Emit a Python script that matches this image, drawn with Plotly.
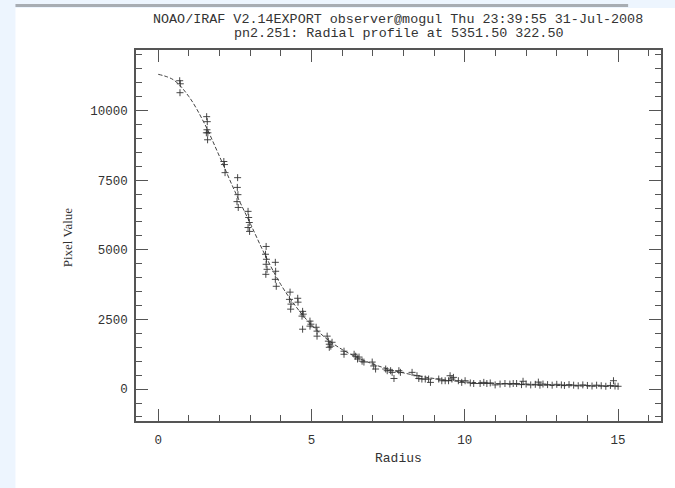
import plotly.graph_objects as go

# ---- data ----
radius = [0.70, 0.72, 0.71,
          1.58, 1.60, 1.59, 1.62, 1.61, 1.57,
          2.14, 2.16, 2.18,
          2.59, 2.58, 2.60, 2.57, 2.61,
          2.93, 2.95, 2.97, 2.93, 2.98,
          3.52, 3.50, 3.53, 3.52, 3.55, 3.51,
          3.82, 3.83, 3.82, 3.85,
          4.30, 4.28, 4.33, 4.32, 4.55, 4.56,
          4.71, 4.73, 4.69, 4.71,
          4.95, 4.98, 4.95, 5.15, 5.18, 5.18,
          5.51, 5.55, 5.58, 5.63, 5.58, 5.67,
          6.06, 6.06, 6.39, 6.44, 6.50, 6.55, 6.65, 6.71,
          6.98, 7.03, 7.09, 7.42, 7.47, 7.58, 7.63, 7.69, 7.85, 7.90,
          8.28, 8.44, 8.50, 8.60, 8.71, 8.82, 8.88,
          9.15, 9.25, 9.36, 9.47, 9.52, 9.58, 9.63, 9.79, 9.90, 10.01,
          10.18, 10.29, 10.50, 10.62, 10.72, 10.83, 10.99,
          11.15, 11.31, 11.47, 11.58, 11.69, 11.85, 11.90,
          12.00, 12.15, 12.30, 12.40, 12.45, 12.55, 12.70, 12.85,
          13.00, 13.15, 13.25, 13.40, 13.55, 13.70, 13.85,
          14.00, 14.15, 14.30, 14.45, 14.60, 14.75, 14.85, 14.90, 15.00]
pixel_value = [11070, 10960, 10640,
               9780, 9600, 9310, 9200, 8950, 9200,
               8170, 8060, 7770,
               7590, 7240, 6980, 6730, 6520,
               6380, 6160, 5980, 5800, 5660,
               5120, 4840, 4660, 4480, 4300, 4120,
               4550, 4230, 3940, 3690,
               3480, 3220, 3050, 2870, 3260, 3120,
               2790, 2690, 2620, 2150,
               2440, 2330, 2260, 2220, 2080, 1900,
               1900, 1720, 1610, 1540, 1500, 1680,
               1360, 1250, 1250, 1180, 1080, 1150, 1000, 970,
               970, 830, 720, 720, 660, 660, 600, 380, 660, 600,
               600, 480, 380, 360, 360, 360, 240,
               360, 300, 300, 300, 480, 360, 420, 300, 240, 300,
               220, 200, 200, 240, 200, 220, 150,
               180, 200, 180, 200, 200, 160, 280,
               180, 150, 170, 250, 140, 180, 160, 140,
               170, 150, 130, 160, 140, 120, 150,
               130, 110, 140, 120, 100, 130, 300, 110, 100]

fit_radius = [0.0, 0.5, 1.0, 1.5, 2.0, 2.5, 3.0, 3.5, 4.0, 4.5, 5.0, 5.5,
              6.0, 6.5, 7.0, 7.5, 8.0, 9.0, 10.0, 11.0, 12.0, 13.0, 14.0, 15.0]
fit_value = [11300, 11100, 10500, 9550, 8350, 7100, 5950, 4780, 3750, 2950,
             2300, 1800, 1420, 1130, 900, 720, 580, 380, 260, 200, 160, 130,
             110, 100]

title_line1 = "NOAO/IRAF V2.14EXPORT observer@mogul Thu 23:39:55 31-Jul-2008"
title_line2 = "pn2.251: Radial profile at 5351.50 322.50"
x_label = "Radius"
y_label = "Pixel Value"

W, H = 675, 488
L, R, T, B = 136, 12, 50, 67
pw, ph = W - L - R, H - T - B


def px(xp):
    return (xp - L) / pw


def py(yp):
    return (H - B - yp) / ph


mono = "Liberation Mono"
ink = "#333333"

fig = go.Figure()
fig.add_trace(go.Scatter(
    x=fit_radius, y=fit_value, mode="lines",
    line=dict(color="#444444", width=1, dash="4px,2px", shape="spline"),
    hoverinfo="skip", showlegend=False))
fig.add_trace(go.Scatter(
    x=radius, y=pixel_value, mode="markers",
    marker=dict(symbol="cross-thin", size=5,
                line=dict(color="#333333", width=0.9)),
    showlegend=False))

axis_common = dict(
    showgrid=False, zeroline=False, showline=True, linecolor="#555555",
    linewidth=1.5, mirror="ticks", ticks="inside", ticklen=12,
    tickwidth=1.2, tickcolor="#555555",
    tickfont=dict(family=mono, size=12.5, color=ink),
)

fig.update_xaxes(range=[-0.725, 16.4], dtick=5, tick0=0,
                 minor=dict(dtick=1, ticks="inside", ticklen=6,
                            tickwidth=1.2, tickcolor="#555555"),
                 ticklabelstandoff=6, **axis_common)
fig.update_yaxes(range=[-1146, 12173], dtick=2500, tick0=0, tickformat="d",
                 minor=dict(dtick=500, ticks="inside", ticklen=6,
                            tickwidth=1.2, tickcolor="#555555"),
                 ticklabelstandoff=4, **axis_common)

shapes = [
    dict(type="rect", xref="paper", yref="paper", layer="below",
         x0=px(15), x1=px(700), y0=py(8), y1=py(520),
         fillcolor="white", line=dict(width=0)),
    dict(type="rect", xref="paper", yref="paper", layer="below",
         x0=px(15), x1=px(630), y0=py(7), y1=py(4),
         fillcolor="#a8adb3", line=dict(width=0)),
]

annotations = [
    dict(text=title_line1, x=px(399), y=py(20), xref="paper", yref="paper",
         showarrow=False, font=dict(family=mono, size=13.4, color=ink),
         xanchor="center", yanchor="middle"),
    dict(text=title_line2, x=px(399), y=py(34), xref="paper", yref="paper",
         showarrow=False, font=dict(family=mono, size=13.4, color=ink),
         xanchor="center", yanchor="middle"),
    dict(text=x_label, x=px(399), y=py(458), xref="paper", yref="paper",
         showarrow=False, font=dict(family=mono, size=13, color=ink),
         xanchor="center", yanchor="middle"),
    dict(text=y_label, x=px(67), y=py(237), xref="paper", yref="paper",
         showarrow=False, textangle=-90,
         font=dict(family="Liberation Serif", size=13, color=ink),
         xanchor="center", yanchor="middle"),
]

fig.update_layout(
    width=W, height=H, autosize=False,
    margin=dict(l=L, r=R, t=T, b=B, pad=0),
    paper_bgcolor="#edf5fe", plot_bgcolor="white",
    shapes=shapes, annotations=annotations,
    showlegend=False,
)

fig.write_html("out.html", config={"displayModeBar": False})
